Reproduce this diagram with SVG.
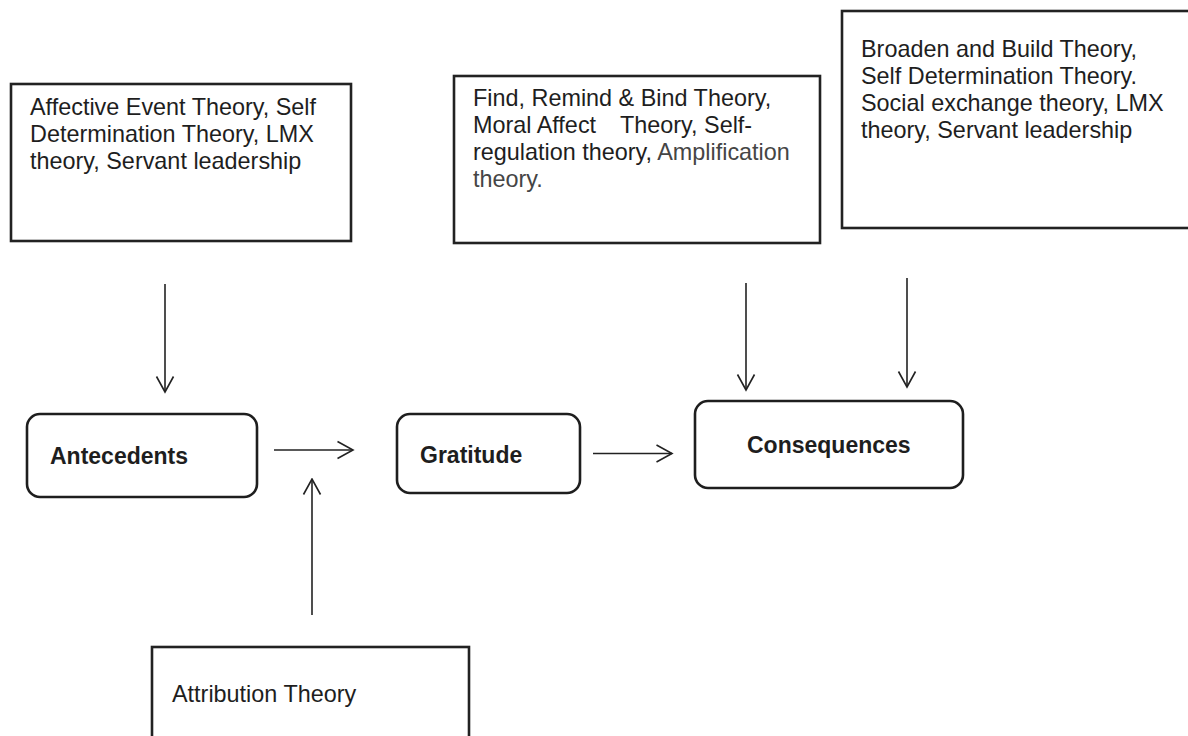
<svg xmlns="http://www.w3.org/2000/svg" width="1188" height="736" viewBox="0 0 1188 736">
<style>
  .box { fill: #ffffff; stroke: #222222; stroke-width: 2.6; }
  .node { fill: #ffffff; stroke: #1e1e1e; stroke-width: 2.6; }
  .t { font-family: "Liberation Sans", Arial, sans-serif; font-size: 23.4px; fill: #1e1e1e; }
  .tg { fill: #454545; }
  .b { font-family: "Liberation Sans", Arial, sans-serif; font-size: 23px; font-weight: bold; fill: #1e1e1e; }
  .c { stroke: #222222; stroke-width: 1.6; fill: none; marker-end: url(#arr); }
</style>
<defs>
  <marker id="arr" markerUnits="userSpaceOnUse" viewBox="0 0 18 20" refX="16.5" refY="10" markerWidth="18" markerHeight="20" orient="auto">
    <path d="M1,1.5 L16.5,10 L1,18.5" fill="none" stroke="#222222" stroke-width="1.6"/>
  </marker>
</defs>
<rect width="1188" height="736" fill="#ffffff"/>

<g id="box-affective">
  <rect class="box" x="11" y="84" width="340" height="157"/>
  <text class="t" x="30" y="115">Affective Event Theory, Self</text>
  <text class="t" x="30" y="142">Determination Theory, LMX</text>
  <text class="t" x="30" y="169">theory, Servant leadership</text>
</g>

<g id="box-find">
  <rect class="box" x="454" y="76" width="366" height="167"/>
  <text class="t" x="473" y="106">Find, Remind &amp; Bind Theory,</text>
  <text class="t" x="473" y="133">Moral Affect<tspan x="620">Theory, Self-</tspan></text>
  <text class="t" x="473" y="160">regulation theory, <tspan class="tg">Amplification</tspan></text>
  <text class="t tg" x="473" y="187">theory.</text>
</g>

<g id="box-broaden">
  <rect class="box" x="842" y="11" width="352" height="217"/>
  <text class="t" x="861" y="57">Broaden and Build Theory,</text>
  <text class="t" x="861" y="84">Self Determination Theory.</text>
  <text class="t" x="861" y="111">Social exchange theory, LMX</text>
  <text class="t" x="861" y="138">theory, Servant leadership</text>
</g>

<g id="box-attribution">
  <rect class="box" x="152" y="647" width="317" height="100"/>
  <text class="t" x="172" y="702">Attribution Theory</text>
</g>

<g id="node-antecedents">
  <rect class="node" x="27" y="414" width="230" height="83" rx="13"/>
  <text class="b" x="50" y="464">Antecedents</text>
</g>

<g id="node-gratitude">
  <rect class="node" x="397" y="414" width="183" height="79" rx="13"/>
  <text class="b" x="420" y="463">Gratitude</text>
</g>

<g id="node-consequences">
  <rect class="node" x="695" y="401" width="268" height="87" rx="13"/>
  <text class="b" x="747" y="453">Consequences</text>
</g>

<g id="connectors">
  <line class="c" x1="165" y1="284" x2="165" y2="392"/>
  <line class="c" x1="312" y1="615" x2="312" y2="479"/>
  <line class="c" x1="274" y1="450" x2="353" y2="450"/>
  <line class="c" x1="593" y1="453.5" x2="672" y2="453.5"/>
  <line class="c" x1="746" y1="283" x2="746" y2="390"/>
  <line class="c" x1="907" y1="278" x2="907" y2="387"/>
</g>
</svg>
